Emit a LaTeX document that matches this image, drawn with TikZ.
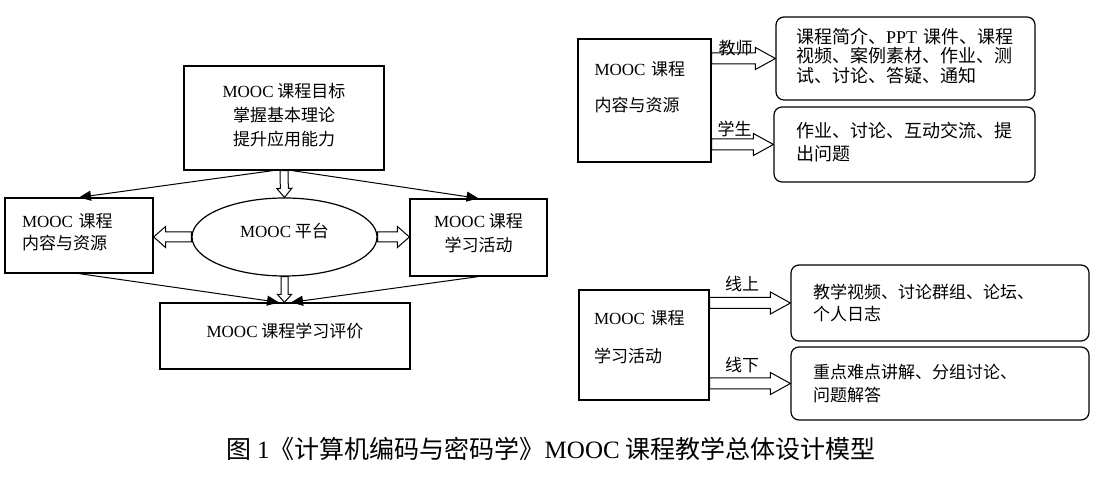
\documentclass[tikz,border=0pt]{standalone}
\usepackage{fontspec}
\setmainfont{Noto Sans CJK SC}
\newfontfamily\tnr{Liberation Serif}
\newcommand\en[1]{{\tnr #1}}
\usetikzlibrary{shapes.geometric,arrows.meta,calc}
\tikzset{
  hollow/.style n args={3}{draw,fill=white,line width=1pt,
    to path={($(\tikztotarget)!#3!(\tikztostart)$) coordinate (hb)
      ($(\tikztostart)!#1!90:(\tikztotarget)$) -- ($(hb)!#1!-90:(\tikztostart)$)
      -- ($(hb)!#2!-90:(\tikztostart)$) -- (\tikztotarget)
      -- ($(hb)!#2!90:(\tikztostart)$) -- ($(hb)!#1!90:(\tikztostart)$)
      -- ($(\tikztostart)!#1!-90:(\tikztotarget)$) -- cycle}},
}
\begin{document}
\begin{tikzpicture}[x=1pt,y=1pt,
  box/.style={draw,line width=1.2pt,inner sep=0pt,font=\fontsize{17pt}{22pt}\selectfont},
  rbox/.style={box,rounded corners=8pt,align=left},
  lab/.style={font=\fontsize{17pt}{20pt}\selectfont},
  line/.style={line width=1pt,-{Triangle[length=12pt,width=10pt]}}]
   \useasboundingbox (0,0) rectangle (1100,489);
   % left: overall model
   \node[box,minimum width=200pt,minimum height=104pt,align=center,text depth=7pt,
     font=\fontsize{17pt}{24pt}\selectfont] (goal) at (284,371)
     {\en{MOOC} 课程目标\\掌握基本理论\\提升应用能力};
   \node[box,minimum width=148pt,minimum height=75pt,align=left,text width=114pt,
     text depth=31pt] (cont) at (79,253.5) {\en{MOOC} 课程\\内容与资源};
   \node[box,ellipse,minimum width=185pt,minimum height=78pt,text depth=14pt]
     (plat) at (284.5,252) {\en{MOOC} 平台};
   \node[box,minimum width=137pt,minimum height=77pt,align=center,text depth=10pt,
     font=\fontsize{17pt}{24pt}\selectfont] (act) at (478.5,251.5) {\en{MOOC} 课程\\学习活动};
   \node[box,minimum width=250pt,minimum height=66pt,text depth=12pt]
     (eval) at (285,153) {\en{MOOC} 课程学习评价};
   \draw[hollow={4pt}{7.5pt}{9pt}] (goal.south) to (plat.north);
   \draw[hollow={5pt}{10.5pt}{12pt}] (plat.west) to (plat.west -| cont.east);
   \draw[hollow={5pt}{10.5pt}{12pt}] (plat.east) to (plat.east -| act.west);
   \draw[hollow={3.5pt}{7pt}{8pt}] (plat.south) to (plat.south |- eval.north);
   \draw[line] ([xshift=-11pt]goal.south) -- (cont.north);
   \draw[line] ([xshift=8pt]goal.south) -- (act.north);
   \draw[line] (cont.south) -- ([xshift=-6pt]eval.north);
   \draw[line] (act.south) -- ([xshift=6pt]eval.north);
   % right: content and activities
   \node[box,minimum width=133pt,minimum height=123pt,align=left,text width=100pt,
     text depth=65pt] (cont2) at (644.5,388.5) {\en{MOOC} 课程\\[14pt]内容与资源};
   \node[rbox,minimum width=259pt,minimum height=83pt,text width=219pt,text depth=46pt,
     font=\fontsize{18pt}{19.5pt}\selectfont] (r1) at (905.5,430.5)
     {课程简介、\en{PPT} 课件、课程\\视频、案例素材、作业、测\\试、讨论、答疑、通知};
   \node[rbox,minimum width=261pt,minimum height=75pt,text width=217pt,text depth=29pt,
     font=\fontsize{18pt}{23pt}\selectfont] (r2) at (904.5,344.5)
     {作业、讨论、互动交流、提\\出问题};
   \node[box,minimum width=130pt,minimum height=110pt,align=left,text width=100pt,
     text depth=56pt] (act2) at (644,144) {\en{MOOC} 课程\\[16pt]学习活动};
   \node[rbox,minimum width=298pt,minimum height=76pt,text width=254pt]
     (r3) at (940,186) {教学视频、讨论群组、论坛、\\个人日志};
   \node[rbox,minimum width=298pt,minimum height=73pt,text width=254pt,
     font=\fontsize{17pt}{23pt}\selectfont] (r4) at (940,105.5)
     {重点难点讲解、分组讨论、\\问题解答};
   \foreach \a/\b/\l/\dy in {cont2/r1/教师/10, cont2/r2/学生/16, act2/r3/线上/19, act2/r4/线下/18}
   {
     \draw[hollow={5.5pt}{11pt}{20pt}] (\a.east |- \b.west) to (\b.west);
     \path (\a.east |- \b.west) -- node[lab,yshift=\dy pt,xshift=-8pt] {\l} (\b.west);
   }
   \node[font=\fontsize{25pt}{28pt}\selectfont] (cap) at (551,40)
     {图 \en{1}《计算机编码与密码学》\en{MOOC} 课程教学总体设计模型};
\end{tikzpicture}
\end{document}
